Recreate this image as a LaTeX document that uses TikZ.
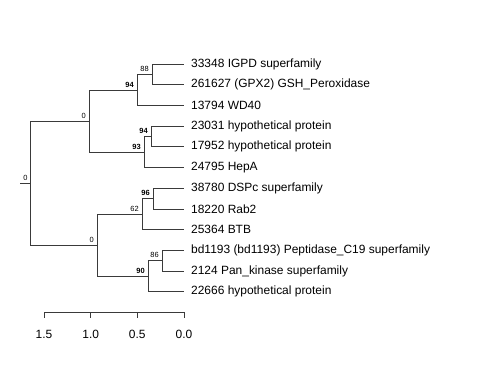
\documentclass[tikz,border=0pt]{standalone}
\usepackage{fontspec}
\setmainfont{Liberation Sans}
\usepackage{xcolor}
\usepackage{tikz}
\definecolor{branch_grey}{HTML}{3a3a3a}

\begin{document}
\begin{tikzpicture}[
                x=1bp,
                y=-1bp,
                line cap=butt,
                branch/.style={draw=branch_grey, line width=0.8bp},
                tiplabel/.style={anchor=west, inner sep=0pt, xshift=7bp,
                    font=\fontsize{12}{14}\selectfont},
                supp/.style={anchor=south east, inner sep=0pt, xshift=-3bp, yshift=2.5bp,
                    font=\fontsize{7.5}{9}\selectfont},
                suppbf/.style={supp, font=\fontsize{7.5}{9}\selectfont\bfseries},
            ]
            \useasboundingbox (0,0) rectangle (480,384);

            % Tips (x = 0.0 on the scale)
            \foreach \i/\ty/\lab in {
                    1/64/{33348 IGPD superfamily},
                    2/84.7/{261627 (GPX2) GSH\_Peroxidase},
                    3/105.4/{13794 WD40},
                    4/126.1/{23031 hypothetical protein},
                    5/146.8/{17952 hypothetical protein},
                    6/167.5/{24795 HepA},
                    7/188.2/{38780 DSPc superfamily},
                    8/208.9/{18220 Rab2},
                    9/229.6/{25364 BTB},
                    10/250.3/{bd1193 (bd1193) Peptidase\_C19 superfamily},
                    11/271/{2124 Pan\_kinase superfamily},
                    12/291.7/{22666 hypothetical protein}} {
                \coordinate (t\i) at (184,\ty);
                \node[tiplabel] (lab\i) at (t\i) {\lab};
            }

            % Internal nodes
            \coordinate (n88) at (152,74.35);
            \coordinate (n94a) at (137,89.9);
            \coordinate (n94b) at (151,136.45);
            \coordinate (n93) at (144,152);
            \coordinate (n0a) at (89,120.9);
            \coordinate (n96) at (153,198.55);
            \coordinate (n62) at (142,214.1);
            \coordinate (n86) at (162,260.65);
            \coordinate (n90) at (148,276.2);
            \coordinate (n0b) at (97,245.15);
            \coordinate (root) at (30.7,183);
            \coordinate (stub) at (20,183);

            % Branches
            \draw[branch] (n88) |- (t1);
            \draw[branch] (n88) |- (t2);
            \draw[branch] (n94a) |- (n88);
            \draw[branch] (n94a) |- (t3);
            \draw[branch] (n94b) |- (t4);
            \draw[branch] (n94b) |- (t5);
            \draw[branch] (n93) |- (n94b);
            \draw[branch] (n93) |- (t6);
            \draw[branch] (n0a) |- (n94a);
            \draw[branch] (n0a) |- (n93);
            \draw[branch] (n96) |- (t7);
            \draw[branch] (n96) |- (t8);
            \draw[branch] (n62) |- (n96);
            \draw[branch] (n62) |- (t9);
            \draw[branch] (n86) |- (t10);
            \draw[branch] (n86) |- (t11);
            \draw[branch] (n90) |- (n86);
            \draw[branch] (n90) |- (t12);
            \draw[branch] (n0b) |- (n62);
            \draw[branch] (n0b) |- (n90);
            \draw[branch] (root) |- (n0a);
            \draw[branch] (root) |- (n0b);
            \draw[branch] (stub) -- (root);

            % Support values
            \node[supp] (s88) at (n88) {88};
            \node[suppbf] (s94a) at (n94a) {94};
            \node[suppbf] (s94b) at (n94b) {94};
            \node[suppbf] (s93) at (n93) {93};
            \node[supp] (s0a) at (n0a) {0};
            \node[suppbf] (s96) at (n96) {96};
            \node[supp] (s62) at (n62) {62};
            \node[supp] (s86) at (n86) {86};
            \node[suppbf] (s90) at (n90) {90};
            \node[supp] (s0b) at (n0b) {0};
            \node[supp] (sroot) at (root) {0};

            % Scale axis
            \coordinate (axl) at (44,312);
            \coordinate (axr) at (184,312);
            \draw[branch] (axl) -- (axr);
            \foreach \k/\v/\xx in {1/1.5/44, 2/1.0/90.7, 3/0.5/137.3, 4/0.0/184} {
                \coordinate (tick\k) at (\xx,312);
                \draw[branch] (tick\k) -- ++(0,6);
                \node[font=\fontsize{12}{14}\selectfont] (ticklab\k) at (\xx,334) {\v};
            }
        \end{tikzpicture}
\end{document}
